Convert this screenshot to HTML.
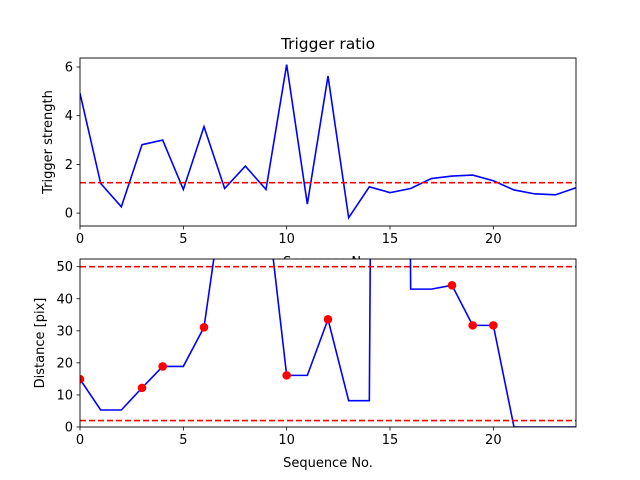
<!DOCTYPE html>
<html><head><meta charset="utf-8"><style>
html,body{margin:0;padding:0;background:#fff}
svg{display:block;font-family:"DejaVu Sans","Liberation Sans",sans-serif}
</style></head><body>
<svg id="c" width="640" height="480" viewBox="0 0 640 480" xmlns="http://www.w3.org/2000/svg"></svg>
<script>
const seq = [0,1,2,3,4,5,6,7,8,9,10,11,12,13,14,15,16,17,18,19,20,21,22,23,24];
const strength = [4.92,1.22,0.26,2.81,3.0,0.97,3.55,1.01,1.93,0.97,6.1,0.37,5.63,-0.19,1.08,0.84,1.01,1.42,1.52,1.56,1.33,0.95,0.79,0.75,1.04];
const strengthThreshold = [1.25];
const distance = [14.9,5.3,5.3,12.2,18.9,18.9,31.1,76,80,72,16.1,16.1,33.6,8.2,8.2,1000,43,43,44.2,31.7,31.7,0,0,0,0];
const markerIdx = [0,3,4,6,10,12,18,19,20];
const distanceLimits = [50,2];
const xTicks = [0,5,10,15,20];
const yTicksTop = [0,2,4,6];
const yTicksBottom = [0,10,20,30,40,50];

const NS="http://www.w3.org/2000/svg";
const svg=document.getElementById('c');
function mk(tag,attrs,parent){const e=document.createElementNS(NS,tag);for(const k in attrs)e.setAttribute(k,attrs[k]);(parent||svg).appendChild(e);return e;}
const X0=80,X1=576,xmin=0,xmax=24;
const xs=v=>X0+(v-xmin)/(xmax-xmin)*(X1-X0);

function panel(name,top,bot,ymin,ymax,yticks,ylabel,ylabelX){
  const ys=v=>bot-(v-ymin)/(ymax-ymin)*(bot-top);
  const g=mk('g',{});
  
  
  const bg=mk('rect',{x:X0,y:top,width:X1-X0,height:bot-top,fill:'#fff'},g);
  
  
  const clipId=name+'-clip';
  const cp=mk('clipPath',{id:clipId},g);
  mk('rect',{x:X0,y:top,width:X1-X0,height:bot-top},cp);
  const plot=mk('g',{'clip-path':'url(#'+clipId+')'},g);
  xTicks.forEach(t=>{
    const tk=mk('line',{x1:xs(t),x2:xs(t),y1:bot,y2:bot+3.5,stroke:'#000','stroke-width':0.8},g);
    
    
    const tl=mk('text',{x:xs(t),y:bot+17,'font-size':13,'text-anchor':'middle',fill:'#000'},g);
    
    
    tl.textContent=t;
  });
  yticks.forEach(t=>{
    const tk=mk('line',{x1:X0-3.5,x2:X0,y1:ys(t),y2:ys(t),stroke:'#000','stroke-width':0.8},g);
    
    
    const tl=mk('text',{x:X0-7,y:ys(t)+4.5,'font-size':13,'text-anchor':'end',fill:'#000'},g);
    
    
    tl.textContent=t;
  });
  const yl=mk('text',{x:0,y:0,'font-size':13,'text-anchor':'middle',fill:'#000',transform:`translate(${ylabelX},${(top+bot)/2}) rotate(-90)`},g);
  
  
  yl.textContent=ylabel;
  return {g,plot,ys,top,bot};
}

// Top panel
const P1=panel('strength-panel',58,226,-0.53,6.37,yTicksTop,'Trigger strength',52);
const t=mk('text',{x:328,y:49,'font-size':15.5,'text-anchor':'middle',fill:'#000'});


t.textContent='Trigger ratio';
const xl1=mk('text',{x:328,y:266,'font-size':13,'text-anchor':'middle',fill:'#000'});


xl1.textContent='Sequence No.';
const sl=mk('polyline',{points:seq.map((s,i)=>xs(s)+','+P1.ys(strength[i])).join(' '),fill:'none',stroke:'#0000ff','stroke-width':1.6},P1.plot);


strengthThreshold.forEach(v=>{
  const l=mk('line',{x1:X0,x2:X1,y1:P1.ys(v),y2:P1.ys(v),stroke:'#ff0000','stroke-width':1.6,'stroke-dasharray':'6,3'},P1.plot);
  
  
});
const f1=mk('rect',{x:X0,y:58,width:X1-X0,height:168,fill:'none',stroke:'#000','stroke-width':0.9},P1.g);



// Bottom panel
const P2=panel('distance-panel',259,427,0,52.4,yTicksBottom,'Distance [pix]',44);
const dl=mk('polyline',{points:seq.map((s,i)=>xs(s)+','+P2.ys(distance[i])).join(' '),fill:'none',stroke:'#0000ff','stroke-width':1.6},P2.plot);


distanceLimits.forEach(v=>{
  const l=mk('line',{x1:X0,x2:X1,y1:P2.ys(v),y2:P2.ys(v),stroke:'#ff0000','stroke-width':1.6,'stroke-dasharray':'6,3'},P2.plot);
  
  
});
markerIdx.forEach(i=>{
  const c=mk('circle',{cx:xs(seq[i]),cy:P2.ys(distance[i]),r:4.3,fill:'#ff0000'},P2.plot);
  
  
});
const f2=mk('rect',{x:X0,y:259,width:X1-X0,height:168,fill:'none',stroke:'#000','stroke-width':0.9},P2.g);


const xl2=mk('text',{x:328,y:467,'font-size':13,'text-anchor':'middle',fill:'#000'});


xl2.textContent='Sequence No.';
</script>
</body></html>
